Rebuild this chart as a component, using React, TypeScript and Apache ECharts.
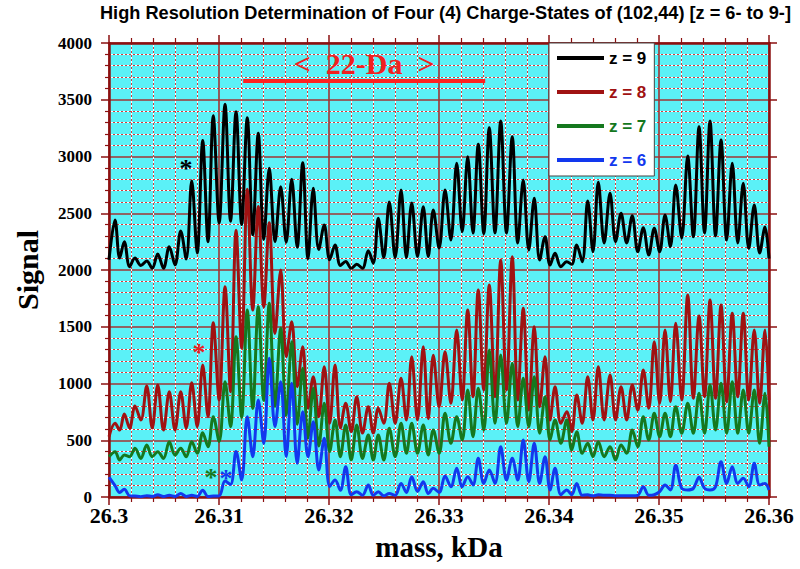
import React, { useEffect, useRef } from "react";
import * as echarts from "echarts";

const X_MIN = 26.3;
const X_MAX = 26.36;
const xTickInterval = 0.01;
const yTickInterval = 500;
const Y_MAX = 4000;

const titleText = "High Resolution Determination of Four (4) Charge-States of (102,44) [z = 6- to 9-]";
const seriesNames = ["z = 9", "z = 8", "z = 7", "z = 6"];
const seriesColors = ["#000000", "#A01212", "#15781E", "#1238EE"];

// isotope peak positions (kDa), shared by all charge states
const peakMass = [
  26.30055, 26.30139, 26.30236, 26.30343, 26.30443, 26.30548, 26.30652, 26.30752, 26.30852, 26.30948,
  26.31055, 26.31155, 26.31257, 26.31357, 26.31457, 26.31561, 26.31661, 26.31761, 26.31857, 26.31957,
  26.32055, 26.32152, 26.32252, 26.32357, 26.32448, 26.32548, 26.32655, 26.32752, 26.32857, 26.32948,
  26.33055, 26.33161, 26.33261, 26.33357, 26.33457, 26.33561, 26.33666, 26.33766, 26.33866, 26.33964,
  26.34055, 26.34161, 26.34252, 26.34352, 26.34448, 26.34555, 26.34655, 26.34757, 26.34857, 26.34957,
  26.35055, 26.35152, 26.35261, 26.35364, 26.35464, 26.35564, 26.35666, 26.35766, 26.35866, 26.35964,
];

// z = 9
const z9Peaks = [
  2440, 2250, 2105, 2080, 2140, 2205, 2343, 2787, 3140, 3360,
  3460, 3395, 3342, 3204, 2896, 2734, 2800, 2946, 2720, 2396,
  2220, 2075, 2050, 2170, 2455, 2600, 2705, 2590, 2557, 2528,
  2705, 2940, 2998, 3107, 3254, 3313, 3175, 2793, 2632, 2293,
  2147, 2073, 2220, 2608, 2773, 2676, 2500, 2478, 2373, 2367,
  2485, 2749, 3004, 3262, 3313, 3145, 2940, 2764, 2573, 2379,
];
const z9Troughs = [
  2090, 2105, 2029, 2040, 2015, 2015, 2044, 2097, 2150, 2250,
  2414, 2430, 2400, 2310, 2270, 2250, 2245, 2200, 2100, 2180,
  2090, 2040, 2015, 2015, 2060, 2110, 2110, 2110, 2120, 2120,
  2194, 2264, 2337, 2326, 2320, 2326, 2326, 2238, 2176, 2088,
  2044, 2029, 2050, 2073, 2161, 2238, 2250, 2238, 2161, 2132,
  2161, 2205, 2282, 2293, 2326, 2300, 2264, 2238, 2190, 2150, 2100,
];

// z = 8
const z8Peaks = [
  649, 731, 802, 978, 987, 928, 928, 1007, 1163, 1536,
  1853, 2350, 2711, 2560, 2417, 2000, 1545, 1324, 1060, 1148,
  1163, 825, 884, 796, 781, 1002, 1046, 1236, 1324, 1250,
  1280, 1471, 1647, 1824, 1868, 2088, 2117, 1662, 1500, 1236,
  972, 752, 899, 1060, 1148, 1075, 972, 987, 1119, 1368,
  1471, 1530, 1780, 1594, 1735, 1691, 1618, 1618, 1471, 1471,
];
const z8Troughs = [
  531, 590, 608, 678, 608, 590, 590, 608, 620, 708,
  855, 928, 1310, 1647, 1677, 1441, 1236, 972, 781, 708,
  649, 608, 575, 563, 563, 649, 649, 678, 678, 690,
  796, 825, 855, 884, 943, 884, 943, 855, 766, 796,
  678, 649, 575, 649, 678, 678, 678, 678, 766, 781,
  825, 840, 855, 870, 884, 870, 840, 884, 855, 825, 855,
];

// z = 7
const z7Peaks = [
  399, 370, 429, 458, 399, 487, 429, 487, 566, 708,
  1016, 1412, 1647, 1677, 1706, 1486, 1368, 1134, 958, 825,
  678, 634, 634, 546, 546, 605, 649, 649, 634, 590,
  737, 708, 943, 958, 1295, 1251, 1178, 1046, 1060, 884,
  678, 678, 575, 473, 487, 443, 458, 590, 708, 737,
  737, 796, 825, 913, 987, 1002, 1016, 943, 943, 913,
];
const z7Troughs = [
  355, 326, 355, 340, 355, 340, 370, 355, 385, 443,
  490, 620, 700, 780, 850, 800, 720, 640, 520, 450,
  400, 355, 326, 340, 326, 326, 355, 385, 385, 370,
  385, 473, 502, 531, 590, 649, 649, 620, 620, 561,
  502, 473, 414, 385, 355, 355, 326, 385, 443, 502,
  531, 531, 561, 561, 561, 590, 561, 561, 561, 473, 443,
];

// z = 6
const z6Peaks = [
  100, 68, 8, 12, 20, 15, 30, 15, 60, 8,
  140, 400, 708, 855, 1222, 1016, 1002, 752, 663, 517,
  150, 267, 47, 106, 47, 30, 120, 179, 135, 76,
  185, 253, 179, 341, 238, 443, 341, 502, 473, 355,
  253, 62, 120, 20, 20, 15, 10, 10, 91, 20,
  106, 280, 62, 173, 62, 311, 267, 165, 297, 120,
];
const z6Troughs = [
  175, 40, 10, 3, 5, 5, 5, 5, 5, 5,
  10, 110, 150, 355, 473, 620, 355, 297, 355, 238,
  91, 60, 20, 15, 15, 10, 15, 40, 50, 30,
  40, 91, 91, 106, 120, 120, 150, 150, 135, 120,
  62, 20, 20, 15, 10, 15, 10, 10, 15, 15,
  47, 62, 76, 76, 76, 91, 120, 120, 91, 106, 62,
];

// annotations (data coordinates)
const spanLabel = "<  22-Da  >";
const spanStart = [26.3122, 3670];
const spanEnd = [26.3342, 3670];
const asterisks = [
  [26.307, 2890],
  [26.30818, 1269],
  [26.30927, 176],
  [26.31064, 167],
];

function buildProfile(peaks: number[], troughs: number[]) {
  const pts: number[][] = [[X_MIN, troughs[0]]];
  for (let i = 0; i < peakMass.length; i++) {
    pts.push([peakMass[i], peaks[i]]);
    const nx = i + 1 < peakMass.length ? (peakMass[i] + peakMass[i + 1]) / 2 : X_MAX;
    pts.push([nx, troughs[i + 1]]);
  }
  return pts;
}

const profiles = [
  buildProfile(z9Peaks, z9Troughs),
  buildProfile(z8Peaks, z8Troughs),
  buildProfile(z7Peaks, z7Troughs),
  buildProfile(z6Peaks, z6Troughs),
];

const DARK_RED = "#8B1010";
const MAJOR_GRID = "#A03434";
const MINOR_RED = "#D23C3C";
const SERIF = "'Liberation Serif', 'Times New Roman', serif";
const SANS = "'Liberation Sans', Arial, sans-serif";

export default function App() {
  const ref = useRef<HTMLDivElement>(null);

  useEffect(() => {
    if (!ref.current) return;
    const chart = echarts.init(ref.current, undefined, { renderer: "svg" });

    const axisCommonX = {
      type: "value",
      min: X_MIN,
      max: X_MAX,
      interval: xTickInterval,
      gridIndex: 0,
    };
    const axisCommonY = {
      type: "value",
      min: 0,
      max: Y_MAX,
      interval: yTickInterval,
      gridIndex: 0,
    };

    const option: any = {
      animation: false,
      backgroundColor: "#ffffff",
      graphic: [
        {
          type: "text",
          x: 100,
          y: 4,
          scaleX: 1.01,
          style: {
            text: titleText,
            fill: "#000",
            fontFamily: SANS,
            fontSize: 18,
            fontWeight: "bold",
            textVerticalAlign: "top",
          },
        },
      ],
      grid: {
        left: 109,
        right: 31,
        top: 43,
        bottom: 72,
        show: true,
        backgroundColor: "#5BF1F7",
        borderWidth: 0,
      },
      legend: {
        orient: "vertical",
        left: 549,
        top: 43,
        icon: "rect",
        itemWidth: 47,
        itemHeight: 4,
        itemGap: 14,
        padding: [5, 8, 6, 8],
        backgroundColor: "#ffffff",
        borderColor: "#444",
        borderWidth: 1,
        textStyle: { fontFamily: SANS, fontSize: 17, fontWeight: "bold", lineHeight: 20 },
        data: seriesNames.map((n, i) => ({ name: n, textStyle: { color: seriesColors[i] } })),
      },
      xAxis: [
        {
          ...axisCommonX,
          position: "bottom",
          name: "mass, kDa",
          nameLocation: "middle",
          nameGap: 35,
          nameTextStyle: { fontFamily: SERIF, fontSize: 29, fontWeight: "bold", color: "#000" },
          axisLine: { show: true, onZero: false, lineStyle: { color: DARK_RED, width: 2.5 } },
          axisTick: { show: true, inside: false, length: 8, lineStyle: { color: DARK_RED, width: 1.5 } },
          minorTick: { show: true, splitNumber: 5, length: 5, lineStyle: { color: DARK_RED, width: 1.2 } },
          axisLabel: {
            margin: 7,
            color: "#000",
            fontFamily: SERIF,
            fontSize: 22,
            fontWeight: "bold",
            formatter: (v: number) => String(Math.round(v * 1000) / 1000),
          },
          splitLine: { show: true, lineStyle: { color: MAJOR_GRID, width: 1.6 } },
          minorSplitLine: { show: true, lineStyle: { color: MINOR_RED, width: 1, type: [2, 2] } },
        },
        {
          ...axisCommonX,
          position: "top",
          axisLine: { show: true, onZero: false, lineStyle: { color: DARK_RED, width: 2.5 } },
          axisTick: { show: true, inside: false, length: 8, lineStyle: { color: DARK_RED, width: 1.5 } },
          minorTick: { show: true, splitNumber: 5, length: 5, lineStyle: { color: DARK_RED, width: 1.2 } },
          axisLabel: { show: false },
          splitLine: { show: false },
          minorSplitLine: {
            show: true,
            lineStyle: { color: "#FFFFFF", width: 1, type: [2, 2], dashOffset: 2 },
          },
        },
      ],
      yAxis: [
        {
          ...axisCommonY,
          position: "left",
          name: "Signal",
          nameLocation: "middle",
          nameGap: 67,
          nameTextStyle: { fontFamily: SERIF, fontSize: 30, fontWeight: "bold", color: "#000" },
          axisLine: { show: true, onZero: false, lineStyle: { color: DARK_RED, width: 2.5 } },
          axisTick: { show: true, inside: false, length: 8, lineStyle: { color: DARK_RED, width: 1.5 } },
          minorTick: { show: true, splitNumber: 5, length: 4, lineStyle: { color: DARK_RED, width: 1.2 } },
          axisLabel: {
            margin: 17,
            color: "#000",
            fontFamily: SERIF,
            fontSize: 17,
            fontWeight: "bold",
            formatter: (v: number) => String(v),
          },
          splitLine: { show: true, lineStyle: { color: MAJOR_GRID, width: 1.6 } },
          minorSplitLine: { show: true, lineStyle: { color: MINOR_RED, width: 1, type: [2, 2] } },
        },
        {
          ...axisCommonY,
          position: "right",
          axisLine: { show: true, onZero: false, lineStyle: { color: DARK_RED, width: 2.5 } },
          axisTick: { show: true, inside: false, length: 8, lineStyle: { color: DARK_RED, width: 1.5 } },
          minorTick: { show: false, splitNumber: 5 },
          axisLabel: { show: false },
          splitLine: { show: false },
          minorSplitLine: {
            show: true,
            lineStyle: { color: "#FFFFFF", width: 1, type: [2, 2], dashOffset: 2 },
          },
        },
      ],
      series: seriesNames.map((name, i) => {
        const s: any = {
          name,
          type: "line",
          xAxisIndex: 0,
          yAxisIndex: 0,
          data: profiles[i],
          showSymbol: false,
          symbol: "none",
          smooth: 0.35,
          lineStyle: { color: seriesColors[i], width: 3 },
          itemStyle: { color: seriesColors[i] },
          markPoint: {
            silent: true,
            symbol: "circle",
            symbolSize: 2,
            itemStyle: { color: "rgba(0,0,0,0)" },
            label: {
              show: true,
              position: "inside",
              formatter: "*",
              color: i === 0 ? "#000" : i === 1 ? "#E82020" : seriesColors[i],
              fontFamily: SERIF,
              fontSize: 26,
              fontWeight: "bold",
            },
            data: [{ coord: asterisks[i] }],
          },
        };
        if (i === 0) {
          s.markLine = {
            silent: true,
            symbol: ["none", "none"],
            lineStyle: { color: "#FF2020", width: 4, type: "solid" },
            label: {
              show: true,
              position: "insideMiddleTop",
              distance: 2,
              formatter: spanLabel,
              color: "#F02020",
              fontFamily: SERIF,
              fontSize: 30,
              fontWeight: "bold",
            },
            data: [[{ coord: spanStart }, { coord: spanEnd }]],
          };
        }
        return s;
      }),
    };

    chart.setOption(option);
    return () => chart.dispose();
  }, []);

  return (
    <div
      ref={ref}
      style={{ position: "absolute", left: 0, top: 0, width: 800, height: 569 }}
    />
  );
}
